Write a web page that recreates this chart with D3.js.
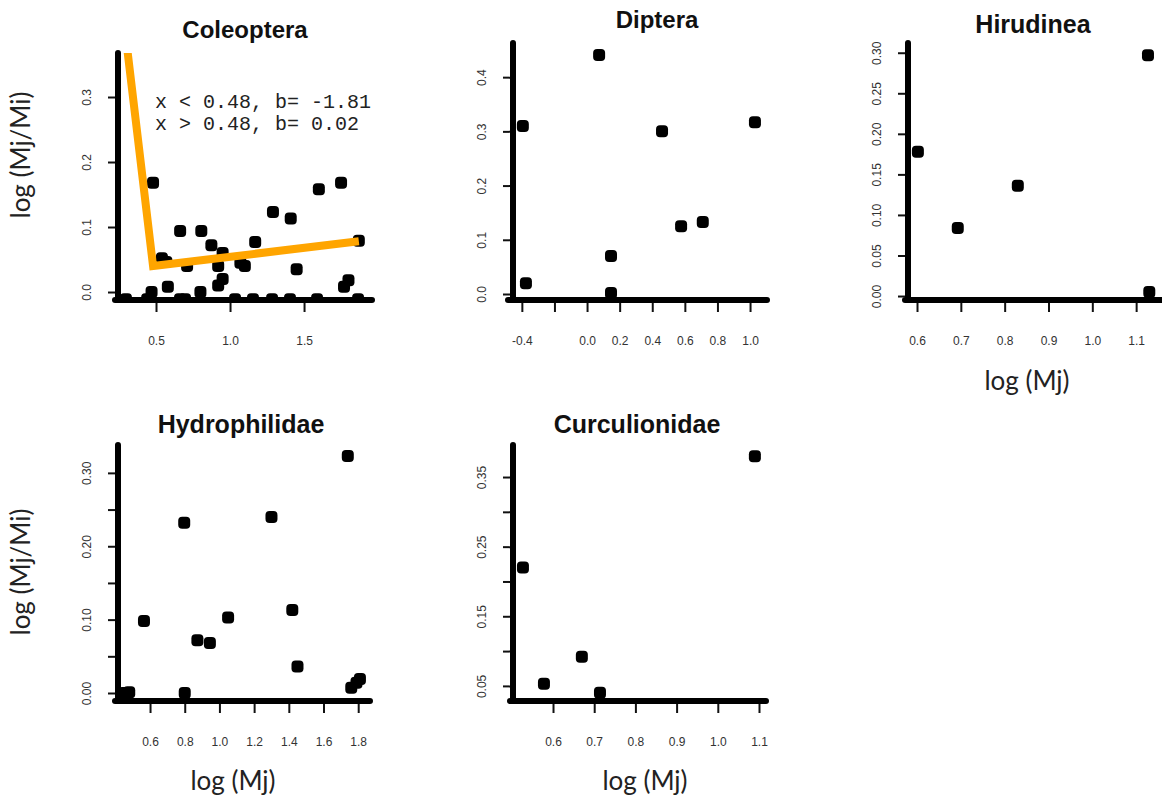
<!DOCTYPE html>
<html>
<head>
<meta charset="utf-8">
<script src="https://cdn.jsdelivr.net/npm/d3@7"></script>
<style>
    body { margin: 0; background: #fff; }
    .tick text { font-family: "Liberation Sans Narrow", "Arial Narrow", "Liberation Sans", sans-serif; font-size: 12px; fill: #333; }
</style>
</head>
<body>
<div id="chart"></div>
<script>
    const width = 1162,
        height = 797;

    // data
    const coleopteraX = [0.48, 0.663, 0.806, 0.874, 0.95, 0.92, 0.95, 0.92, 1.17, 1.29, 1.41, 1.45, 1.60, 1.75, 1.80, 1.77, 1.87,
        0.54, 0.57, 0.71, 1.07, 1.10, 0.47, 0.58, 0.80,
        0.297, 0.44, 0.662, 0.696, 1.034, 1.155, 1.284, 1.405, 1.588, 1.865];
    const coleopteraY = [0.168, 0.094, 0.094, 0.072, 0.06, 0.04, 0.02, 0.01, 0.077, 0.123, 0.113, 0.035, 0.158, 0.168, 0.018, 0.008, 0.079,
        0.052, 0.046, 0.04, 0.045, 0.04, 0.0, 0.008, 0.0,
        -0.011, -0.011, -0.011, -0.011, -0.011, -0.011, -0.011, -0.011, -0.011, -0.011];
    const breakX = [0.30, 0.48, 1.87];
    const breakY = [0.385, 0.040, 0.078];

    const dipteraX = [-0.394, -0.375, 0.074, 0.147, 0.147, 0.46, 0.577, 0.71, 1.03];
    const dipteraY = [0.31, 0.02, 0.441, 0.07, 0.002, 0.30, 0.125, 0.133, 0.317];

    const hirudineaX = [0.602, 0.693, 0.83, 1.127, 1.13];
    const hirudineaY = [0.178, 0.084, 0.136, 0.297, 0.005];

    const hydroX = [0.45, 0.48, 0.565, 0.797, 0.80, 0.873, 0.945, 1.05, 1.30, 1.42, 1.45, 1.74, 1.76, 1.79, 1.81];
    const hydroY = [0.0, 0.001, 0.098, 0.232, 0.0, 0.072, 0.068, 0.103, 0.24, 0.113, 0.036, 0.323, 0.007, 0.014, 0.019];

    const curcX = [0.527, 0.578, 0.67, 0.714, 1.09];
    const curcY = [0.22, 0.053, 0.092, 0.04, 0.38];

    // tick values and which ones get a label
    const coleopteraXTicks = [0.5, 1.0, 1.5];
    const coleopteraYTicks = [0.0, 0.1, 0.2, 0.3];
    const dipteraXTicks = [-0.4, -0.2, 0.0, 0.2, 0.4, 0.6, 0.8, 1.0];
    const dipteraXLabels = ["-0.4", "", "0.0", "0.2", "0.4", "0.6", "0.8", "1.0"];
    const dipteraYTicks = [0.0, 0.1, 0.2, 0.3, 0.4];
    const hirudineaXTicks = [0.6, 0.7, 0.8, 0.9, 1.0, 1.1];
    const hirudineaYTicks = [0.0, 0.05, 0.10, 0.15, 0.20, 0.25, 0.30];
    const hydroXTicks = [0.6, 0.8, 1.0, 1.2, 1.4, 1.6, 1.8];
    const hydroYTicks = [0.0, 0.05, 0.10, 0.15, 0.20, 0.25, 0.30];
    const hydroYLabels = ["0.00", "", "0.10", "", "0.20", "", "0.30"];
    const curcXTicks = [0.6, 0.7, 0.8, 0.9, 1.0, 1.1];
    const curcYTicks = [0.05, 0.10, 0.15, 0.20, 0.25, 0.30, 0.35];
    const curcYLabels = ["0.05", "", "0.15", "", "0.25", "", "0.35"];

    const svg = d3.select("#chart")
        .append("svg")
        .attr("width", width)
        .attr("height", height)
        .style("background", "#fff");

    const panels = [
        { title: "Coleoptera", tx: 245, ty: 38, tsize: 24, xs: coleopteraX, ys: coleopteraY,
          xDomain: [0.223, 1.959], xRange: [115, 372], yDomain: [-0.0169, 0.3677], yRange: [303, 53],
          axX: 118, axY: 300, xTicks: coleopteraXTicks, xFmt: d3.format(".1f"), yTicks: coleopteraYTicks, yFmt: d3.format(".1f"),
          yTitle: [30, 155] },
        { title: "Diptera", tx: 657, ty: 28, tsize: 24, xs: dipteraX, ys: dipteraY,
          xDomain: [-0.485, 1.104], xRange: [508, 767], yDomain: [-0.0166, 0.463], yRange: [303, 43],
          axX: 513, axY: 300, xTicks: dipteraXTicks, xFmt: (d, i) => dipteraXLabels[i], yTicks: dipteraYTicks, yFmt: d3.format(".1f") },
        { title: "Hirudinea", tx: 1033, ty: 33, tsize: 25, xs: hirudineaX, ys: hirudineaY,
          xDomain: [0.5726, 1.159], xRange: [905, 1162], yDomain: [-0.0086, 0.312], yRange: [303, 43],
          axX: 908, axY: 300, xTicks: hirudineaXTicks, xFmt: d3.format(".1f"), yTicks: hirudineaYTicks, yFmt: d3.format(".2f"),
          xTitle: [1027, 390] },
        { title: "Hydrophilidae", tx: 241, ty: 433, tsize: 25, xs: hydroX, ys: hydroY,
          xDomain: [0.398, 1.868], xRange: [115, 370], yDomain: [-0.015, 0.338], yRange: [704, 445],
          axX: 118, axY: 701, xTicks: hydroXTicks, xFmt: d3.format(".1f"), yTicks: hydroYTicks, yFmt: (d, i) => hydroYLabels[i],
          xTitle: [233, 790], yTitle: [30, 572] },
        { title: "Curculionidae", tx: 637, ty: 433, tsize: 25, xs: curcX, ys: curcY,
          xDomain: [0.4956, 1.117], xRange: [510, 766], yDomain: [0.024, 0.396], yRange: [704, 445],
          axX: 513, axY: 701, xTicks: curcXTicks, xFmt: d3.format(".1f"), yTicks: curcYTicks, yFmt: (d, i) => curcYLabels[i],
          xTitle: [645, 790] }
    ];

    panels.forEach(function (p, k) {
        const x = d3.scaleLinear().domain(p.xDomain).range(p.xRange);
        const y = d3.scaleLinear().domain(p.yDomain).range(p.yRange);
        const g = svg.append("g");

        // plot region, points and line are cut at the axis lines like in R
        const clipId = "clip" + k;
        svg.append("clipPath")
            .attr("id", clipId)
            .append("rect")
            .attr("x", p.xRange[0])
            .attr("y", p.yRange[1])
            .attr("width", p.xRange[1] - p.xRange[0] + 10)
            .attr("height", p.axY - p.yRange[1]);

        const pts = p.xs.map((v, i) => [v, p.ys[i]]);

        // points first, the heavy axis lines go over them
        g.append("g")
            .attr("clip-path", `url(#${clipId})`)
            .selectAll("rect")
            .data(pts)
            .join("rect")
            .attr("x", d => x(d[0]) - 6)
            .attr("y", d => y(d[1]) - 6)
            .attr("width", 12)
            .attr("height", 12)
            .attr("rx", 4)
            .attr("fill", "#000");

        if (k === 0) {
            const line = d3.line().x(d => x(d[0])).y(d => y(d[1]));
            g.append("path")
                .datum(breakX.map((v, i) => [v, breakY[i]]))
                .attr("clip-path", `url(#${clipId})`)
                .attr("d", line)
                .attr("fill", "none")
                .attr("stroke", "#FFA500")
                .attr("stroke-width", 8)
                .attr("stroke-linejoin", "miter");

            g.append("text")
                .attr("x", 155)
                .attr("y", 108)
                .style("font-family", "'Liberation Mono', 'DejaVu Sans Mono', monospace")
                .style("font-size", "20px")
                .attr("fill", "#222")
                .text("x < 0.48, b= -1.81");
            g.append("text")
                .attr("x", 155)
                .attr("y", 130)
                .style("font-family", "'Liberation Mono', 'DejaVu Sans Mono', monospace")
                .style("font-size", "20px")
                .attr("fill", "#222")
                .text("x > 0.48, b= 0.02");
        }

        // L shaped axis lines
        g.append("path")
            .attr("d", `M${p.axX},${p.yRange[1]} L${p.axX},${p.axY} L${p.xRange[1]},${p.axY}`)
            .attr("fill", "none")
            .attr("stroke", "#000")
            .attr("stroke-width", 6)
            .attr("stroke-linecap", "round")
            .attr("stroke-linejoin", "round");
        g.append("path")
            .attr("d", `M${p.xRange[0]},${p.axY} L${p.axX},${p.axY}`)
            .attr("stroke", "#000")
            .attr("stroke-width", 6)
            .attr("stroke-linecap", "round");

        const ya = g.append("g")
            .attr("transform", `translate(${p.axX - 3},0)`)
            .call(d3.axisLeft(y).tickValues(p.yTicks).tickSize(7).tickFormat(p.yFmt));
        ya.select(".domain").remove();
        ya.selectAll("line").attr("stroke", "#111").attr("stroke-width", 2);
        ya.selectAll("text")
            .attr("x", 0)
            .attr("dy", 0)
            .attr("text-anchor", "middle")
            .attr("transform", "translate(-24,0) rotate(-90)");

        const xa = g.append("g")
            .attr("transform", `translate(0,${p.axY + 3})`)
            .call(d3.axisBottom(x).tickValues(p.xTicks).tickSize(9).tickFormat(p.xFmt));
        xa.select(".domain").remove();
        xa.selectAll("line").attr("stroke", "#111").attr("stroke-width", 2);
        xa.selectAll("text")
            .attr("y", 42)
            .attr("dy", 0);

        g.append("text")
            .attr("x", p.tx)
            .attr("y", p.ty)
            .attr("text-anchor", "middle")
            .style("font-family", "'Liberation Sans', Arial, sans-serif")
            .style("font-weight", "bold")
            .style("font-size", p.tsize + "px")
            .attr("fill", "#111")
            .text(p.title);

        if (p.xTitle) {
            g.append("text")
                .attr("x", p.xTitle[0])
                .attr("y", p.xTitle[1])
                .attr("text-anchor", "middle")
                .style("font-family", "Lato, 'Open Sans', sans-serif")
                .style("font-size", "26px")
                .attr("fill", "#222")
                .text("log (Mj)");
        }
        if (p.yTitle) {
            g.append("text")
                .attr("transform", `translate(${p.yTitle[0]},${p.yTitle[1]}) rotate(-90)`)
                .attr("text-anchor", "middle")
                .style("font-family", "Lato, 'Open Sans', sans-serif")
                .style("font-size", "26px")
                .attr("fill", "#222")
                .text("log (Mj/Mi)");
        }
    });
</script>
</body>
</html>
